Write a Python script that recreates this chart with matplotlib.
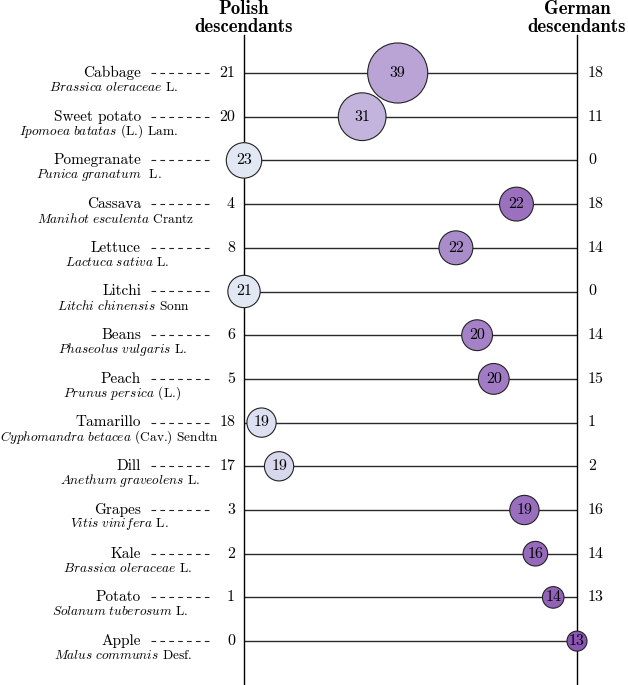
import matplotlib
matplotlib.use('Agg')
import matplotlib.pyplot as plt
from matplotlib.colors import LinearSegmentedColormap
from matplotlib.lines import Line2D

plt.rcParams['font.family'] = 'cmr10'
plt.rcParams['mathtext.fontset'] = 'cm'
plt.rcParams['axes.unicode_minus'] = False

# data
crops = ['Cabbage', 'Sweet potato', 'Pomegranate', 'Cassava', 'Lettuce', 'Litchi', 'Beans',
         'Peach', 'Tamarillo', 'Dill', 'Grapes', 'Kale', 'Potato', 'Apple']
sci_it = ['Brassica oleraceae', 'Ipomoea batatas', 'Punica granatum', 'Manihot esculenta',
          'Lactuca sativa', 'Litchi chinensis', 'Phaseolus vulgaris', 'Prunus persica',
          'Cyphomandra betacea', 'Anethum graveolens', 'Vitis vinifera', 'Brassica oleraceae',
          'Solanum tuberosum', 'Malus communis']
sci_auth = ['L.', '(L.) Lam.', ' L.', 'Crantz', 'L.', 'Sonn', 'L.', '(L.)', '(Cav.) Sendtn',
            'L.', 'L.', 'L.', 'L.', 'Desf.']
polish = [21, 20, 23, 4, 8, 21, 6, 5, 18, 17, 3, 2, 1, 0]
german = [18, 11, 0, 18, 14, 0, 14, 15, 1, 2, 16, 14, 13, 13]

W, H = 628, 685
fig = plt.figure(figsize=(W / 100, H / 100), dpi=100)

# axes spans between the two vertical lines
x0, x1 = 244, 577
ytop, ybot = 35, 685
row0, step = 73, 43.7
ax = fig.add_axes([x0 / W, 1 - ybot / H, (x1 - x0) / W, (ybot - ytop) / H])
ax.set_xlim(0, 1)
ax.set_ylim((ybot - row0) / step, (ytop - row0) / step)
for s in ['top', 'bottom']:
    ax.spines[s].set_visible(False)
for s in ['left', 'right']:
    ax.spines[s].set_linewidth(1.0)
ax.set_xticks([])
ax.set_yticks([])
ax.patch.set_alpha(0)

cmap = LinearSegmentedColormap.from_list('pg', ['#e1e7f3', '#8c57b4'])

n = len(crops)
totals = [p + g for p, g in zip(polish, german)]
frac = [g / t for g, t in zip(german, totals)]

for i in range(n):
    ax.plot([0, 1], [i, i], color='#2a2a2a', lw=1.0, zorder=1)

sizes = [(2 * 0.77 * t * 0.72) ** 2 for t in totals]
ax.scatter(frac, list(range(n)), s=sizes, c=[cmap(f) for f in frac],
           edgecolors='#222222', linewidths=0.8, zorder=3, clip_on=False)
for i in range(n):
    ax.text(frac[i], i, str(totals[i]), ha='center', va='center', fontsize=11.5, zorder=4)

renderer = fig.canvas.get_renderer()


def fy(i):
    return 1 - (row0 + step * i) / H


for i in range(n):
    y = fy(i)
    t = fig.text(141 / W, y, crops[i], ha='right', va='center', fontsize=11)
    bb = t.get_window_extent(renderer)
    cx = (bb.x0 + bb.x1) / 2 / W
    label = r'$\mathit{' + sci_it[i].replace(' ', r'\ ') + '}$ ' + sci_auth[i]
    fig.text(cx + 1.5 / W, y - 14.5 / H, label, ha='center', va='center', fontsize=9.6)
    fig.add_artist(Line2D([151 / W, 213 / W], [y, y], color='#222222', lw=0.8,
                          linestyle=(0, (4.2, 3.8))))
    if german[i] != 0:
        fig.text(235 / W, y, str(polish[i]), ha='right', va='center', fontsize=11.5)
    if polish[i] != 0:
        fig.text(588 / W, y, str(german[i]), ha='left', va='center', fontsize=11.5)

fig.text(x0 / W, 1 - 18.5 / H, 'Polish\ndescendants', ha='center', va='center',
         fontsize=13.5, family='cmb10', linespacing=1.0)
fig.text(x1 / W, 1 - 18.5 / H, 'German\ndescendants', ha='center', va='center',
         fontsize=13.5, family='cmb10', linespacing=1.0)

fig.savefig('out.png', dpi=100)
